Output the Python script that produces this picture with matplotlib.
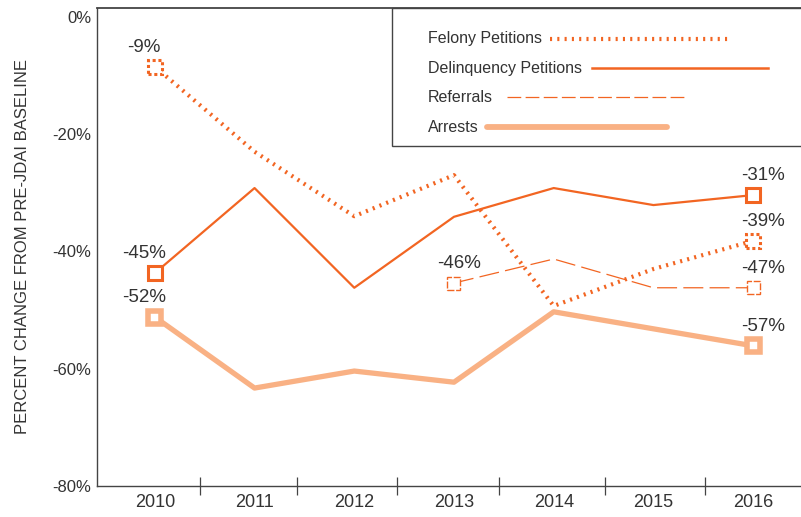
import matplotlib.pyplot as plt
from matplotlib.patches import Rectangle
from matplotlib.lines import Line2D
from matplotlib.transforms import ScaledTranslation
import numpy as np

# --- Data ---
years = [2010, 2011, 2012, 2013, 2014, 2015, 2016]
felony = [-8.5, -23, -34, -27, -49.3, -43, -38.2]
delinquency = [-43.7, -29.2, -46.2, -34.1, -29.2, -32.1, -30.4]
referral_years = [2013, 2014, 2015, 2016]
referrals = [-45.4, -41.3, -46.2, -46.2]
arrests = [-51.2, -63.3, -60.4, -62.3, -50.3, -53.2, -56.1]

felony_labels = ["-9%", "-39%"]
delinq_labels = ["-45%", "-31%"]
referral_labels = ["-46%", "-47%"]
arrest_labels = ["-52%", "-57%"]
series_names = ['Felony Petitions', 'Delinquency Petitions', 'Referrals', 'Arrests']

dark = '#F26522'
light = '#F9B184'
txt = '#333333'
axis_col = '#444444'

plt.rcParams['font.family'] = ['Liberation Sans', 'DejaVu Sans']
narrow = ['Liberation Sans Narrow', 'Liberation Sans', 'DejaVu Sans']

W, H = 801, 517
fig = plt.figure(figsize=(W / 100, H / 100), dpi=100)
ax = fig.add_axes([97 / W, 1 - 486 / H, 1 - 97 / W, (486 - 8) / H])

x = np.arange(len(years))
rx = np.array([years.index(y) for y in referral_years])

dotted = (0, (0.5, 1.25))
dashed = (0, (16, 5))

# --- lines ---
ax.plot(x, felony, color=dark, lw=3.0, ls=dotted, dash_capstyle='butt')
ax.plot(x, delinquency, color=dark, lw=1.6)
ax.plot(rx, referrals, color=dark, lw=0.9, ls=dashed)
ax.plot(x, arrests, color=light, lw=3.8, solid_capstyle='round')


# --- open square end markers (fixed pixel size, placed at data points) ---
def square(xv, yv, size_px, **kw):
    s = size_px / 100
    tr = fig.dpi_scale_trans + ScaledTranslation(xv, yv, ax.transData)
    ax.add_patch(Rectangle((-s / 2, -s / 2), s, s, transform=tr, facecolor='white',
                           zorder=5, clip_on=False, **kw))


for i in (0, -1):
    square(x[i], felony[i], 14, edgecolor=dark, lw=2.2, ls=(0, (1.0, 0.9)))
    square(x[i], delinquency[i], 14, edgecolor=dark, lw=2.2)
    square(rx[i], referrals[i], 13, edgecolor=dark, lw=1.0, ls=(0, (5, 1.2)))
    square(x[i], arrests[i], 13, edgecolor=light, lw=4.0)


# --- value labels ---
def label(xi, yi, s, dx):
    ax.annotate(s, (xi, yi), xytext=(dx, 8), textcoords='offset points',
                ha='center', va='bottom', fontsize=13.5, color=txt)


label(x[0], felony[0], felony_labels[0], -8)
label(x[-1], felony[-1], felony_labels[1], 7)
label(x[0], delinquency[0], delinq_labels[0], -8)
label(x[-1], delinquency[-1], delinq_labels[1], 7)
label(rx[0], referrals[0], referral_labels[0], 4)
label(rx[-1], referrals[-1], referral_labels[1], 7)
label(x[0], arrests[0], arrest_labels[0], -8)
label(x[-1], arrests[-1], arrest_labels[1], 7)

# --- axes styling ---
ax.set_xlim(-0.58, len(years) - 0.52)
ax.set_ylim(-80, 1.5)
ax.set_yticks([0, -20, -40, -60, -80])
ax.set_yticklabels(['0%', '-20%', '-40%', '-60%', '-80%'])
ax.set_xticks(x)
ax.set_xticklabels([str(y) for y in years], family=narrow)
ax.set_xticks([0.45, 1.43, 2.43, 3.45, 4.51, 5.52], minor=True)
ax.tick_params(axis='y', length=0, pad=4, labelsize=12, labelcolor=txt)
ax.tick_params(axis='x', which='major', length=0, pad=6, labelsize=13, labelcolor=txt)
ax.tick_params(axis='x', which='minor', length=13.5, width=0.9, direction='inout', color=axis_col)
for s in ['top', 'left', 'bottom']:
    ax.spines[s].set_color(axis_col)
    ax.spines[s].set_linewidth(1.0)
ax.spines['right'].set_visible(False)
ax.spines['top'].set_linewidth(1.3)

ax.set_ylabel('PERCENT CHANGE FROM PRE-JDAI BASELINE', fontsize=12, color=txt, labelpad=16)

# --- legend box drawn by hand (text left, sample line right) ---
fig.add_artist(Rectangle((392 / W, 1 - 146 / H), 0.6, (146 - 8) / H, transform=fig.transFigure,
                         facecolor='white', edgecolor=axis_col, lw=1.0, zorder=6))
rows_y = [39, 68, 97, 127]
handle_x = [(550, 728), (592, 768), (507, 684), (487, 667)]
handle_styles = [dict(color=dark, lw=3.0, ls=dotted, dash_capstyle='butt'),
                 dict(color=dark, lw=1.8),
                 dict(color=dark, lw=0.9, ls=(0, (11, 3.5))),
                 dict(color=light, lw=4.2, solid_capstyle='round')]
for name, yy, (x0, x1), st in zip(series_names, rows_y, handle_x, handle_styles):
    fig.text(428 / W, 1 - yy / H, name, fontsize=11.5, color=txt, va='center', ha='left', zorder=7)
    fig.add_artist(Line2D([x0 / W, x1 / W], [1 - yy / H, 1 - yy / H],
                          transform=fig.transFigure, zorder=7, **st))

fig.savefig('out.png', dpi=100)
